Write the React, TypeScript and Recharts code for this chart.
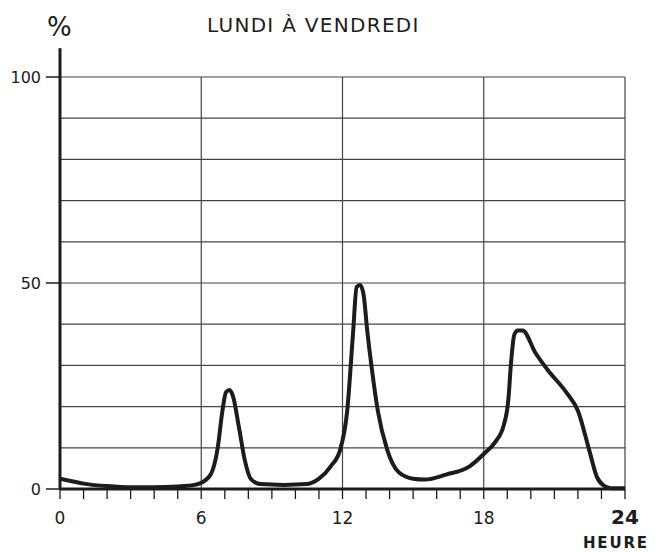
import { LineChart, Line, XAxis, YAxis, ReferenceLine } from 'recharts';

// hours of the day and share (%)
const hours = [
  0, 0.5, 1, 2, 3, 4, 5, 5.7, 6, 6.4, 6.7, 6.9, 7.05, 7.2, 7.35, 7.6, 7.85, 8.1, 8.5, 9.5,
  10.5, 11, 11.5, 11.9, 12.2, 12.45, 12.6, 12.75, 12.9, 13.05, 13.25, 13.5, 13.9, 14.4, 15,
  15.5, 16.4, 17.4, 18, 18.5, 18.85, 19.05, 19.15, 19.3, 19.45, 19.65, 20.2, 20.7, 21.5, 22,
  22.5, 22.8, 23.1, 23.4, 24,
];
const share = [
  2.5, 1.9, 1.3, 0.7, 0.4, 0.4, 0.6, 1, 1.5, 3.5, 10, 19, 23.5, 24, 22.5, 15, 7, 2.5, 1.2, 1,
  1.2, 2.5, 5.5, 9.5, 19, 38, 49, 49.5, 47, 38.5, 29, 19, 9.5, 4, 2.5,
  2.3, 3.5, 5.5, 8.5, 11.5, 15.5, 22, 30, 37.5, 38.5, 38.5, 33, 29, 23.5, 19,
  9, 3, 0.8, 0.2, 0.2,
];

const xTicks = Array.from({ length: 25 }, (_, i) => i);
const yTicks = [0, 50, 100];
const hGrid = [10, 20, 30, 40, 50, 60, 70, 80, 90, 100];
const vGrid = [6, 12, 18, 24];

const data = hours.map((h, i) => ({ h, v: share[i] }));

const FONT = "'DejaVu Sans', sans-serif";
const INK = '#1c1c1c';

function HourTick({ x, y, payload }: any) {
  const v = payload.value;
  if (v % 6 !== 0) return null;
  const last = v === 24;
  return (
    <text
      x={x}
      y={y}
      dy={23}
      textAnchor="middle"
      fill={INK}
      fontFamily={FONT}
      fontSize={last ? 20 : 17}
      fontWeight={last ? 'bold' : 'normal'}
    >
      {v}
    </text>
  );
}

function PctTick({ x, y, payload }: any) {
  return (
    <text x={x} y={y} dy={6} textAnchor="end" fill={INK} fontFamily={FONT} fontSize={16}>
      {payload.value}
    </text>
  );
}

export default function App() {
  return (
    <div style={{ position: 'relative', width: 650, height: 544, background: '#fff' }}>
      <div
        style={{
          position: 'absolute',
          left: 199,
          top: 5,
          fontFamily: FONT,
          fontSize: 20,
          letterSpacing: 1.3,
          color: INK,
        }}
      >
        LUNDI À VENDREDI
      </div>
      <div style={{ position: 'absolute', left: 39, top: 4, fontFamily: FONT, fontSize: 26, color: INK }}>
        %
      </div>
      <div
        style={{
          position: 'absolute',
          left: 575,
          top: 527,
          fontFamily: FONT,
          fontSize: 15,
          lineHeight: '17px',
          fontWeight: 'bold',
          letterSpacing: 1.8,
          whiteSpace: 'nowrap',
          color: INK,
        }}
      >
        HEURE
      </div>
      <LineChart width={650} height={544} data={data} margin={{ top: 69, right: 33, left: 0, bottom: 0 }}>
        {hGrid.map((g) => (
          <ReferenceLine key={'h' + g} y={g} stroke="#444" strokeWidth={1.2} />
        ))}
        {vGrid.map((g) => (
          <ReferenceLine key={'v' + g} x={g} stroke="#444" strokeWidth={1.2} />
        ))}
        <ReferenceLine
          segment={[{ x: 0, y: 100 }, { x: 0, y: 107 }]}
          ifOverflow="visible"
          stroke={INK}
          strokeWidth={3}
        />
        <XAxis
          dataKey="h"
          type="number"
          domain={[0, 24]}
          ticks={xTicks}
          interval={0}
          height={63}
          tickSize={10}
          axisLine={{ stroke: INK, strokeWidth: 3 }}
          tickLine={{ stroke: INK, strokeWidth: 1.3 }}
          tick={<HourTick />}
        />
        <YAxis
          type="number"
          domain={[0, 100]}
          ticks={yTicks}
          width={52}
          tickSize={14}
          tickMargin={5}
          axisLine={{ stroke: INK, strokeWidth: 3 }}
          tickLine={{ stroke: INK, strokeWidth: 1.5 }}
          tick={<PctTick />}
        />
        <Line
          type="monotone"
          dataKey="v"
          stroke={INK}
          strokeWidth={4}
          dot={false}
          isAnimationActive={false}
        />
      </LineChart>
    </div>
  );
}
